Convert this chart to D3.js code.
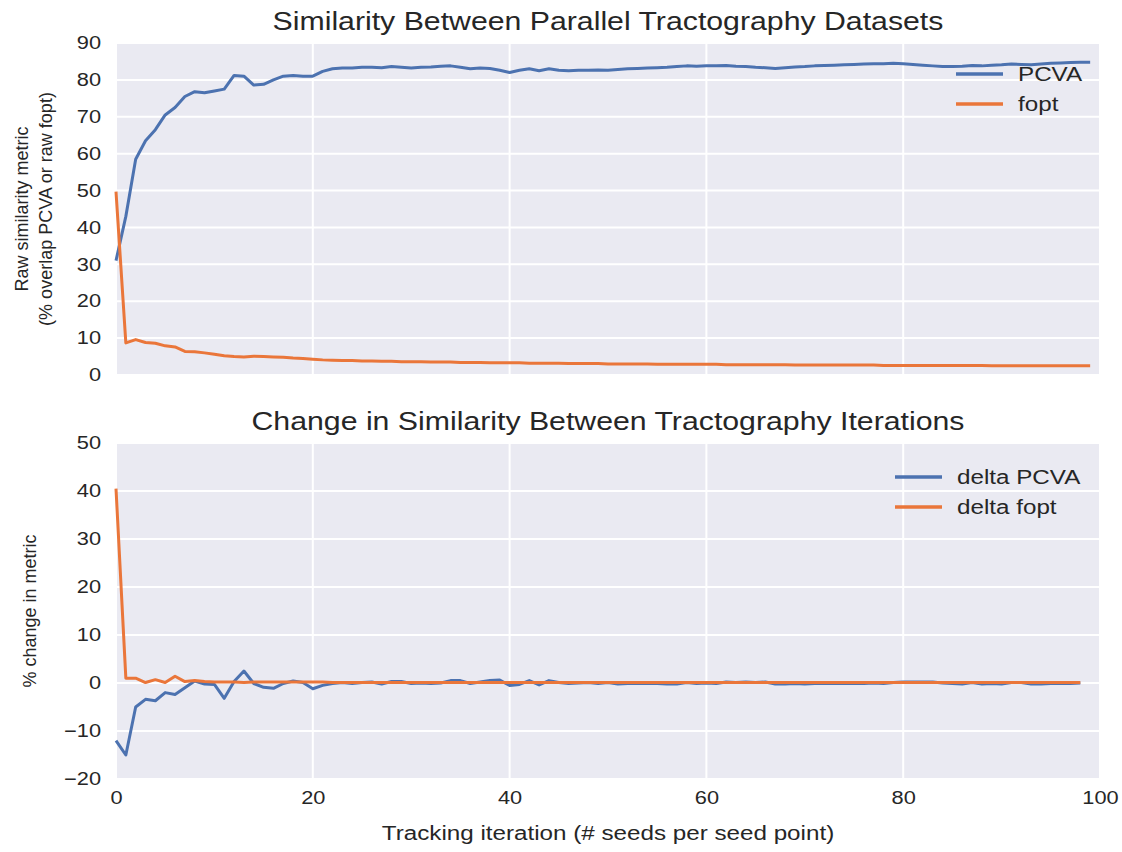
<!DOCTYPE html>
<html>
<head>
<meta charset="utf-8">
<script src="https://cdn.jsdelivr.net/npm/d3@7"></script>
<style>
  body { margin: 0; background: #fff; }
  svg text { font-family: "Liberation Sans", Arial, sans-serif; fill: #262626; }
</style>
</head>
<body>
<div id="chart"></div>
<script>
// Raw similarity per tracking iteration (x = 0..99)
var pcva = [31, 43, 58.5, 63.5, 66.5, 70.5, 72.5, 75.5, 76.8, 76.5,
  77, 77.5, 81.2, 81, 78.6, 78.8, 80, 81, 81.2, 81,
  81, 82.3, 83, 83.2, 83.2, 83.4, 83.4, 83.3, 83.6, 83.4,
  83.2, 83.4, 83.5, 83.7, 83.8, 83.4, 83, 83.2, 83.1, 82.6,
  82, 82.6, 83, 82.5, 83, 82.6, 82.5, 82.6, 82.6, 82.7,
  82.6, 82.8, 83, 83.1, 83.2, 83.3, 83.4, 83.6, 83.8, 83.7,
  83.8, 83.8, 83.9, 83.7, 83.6, 83.4, 83.3, 83.1, 83.3, 83.5,
  83.6, 83.8, 83.9, 84, 84.1, 84.2, 84.3, 84.4, 84.4, 84.5,
  84.4, 84.2, 84, 83.8, 83.6, 83.6, 83.7, 83.9, 83.8, 84,
  84.1, 84.3, 84.2, 84.1, 84.3, 84.5, 84.6, 84.7, 84.8, 84.8];

var fopt = [49.7, 8.7, 9.6, 8.8, 8.6, 7.9, 7.6, 6.4, 6.3, 6.0,
  5.6, 5.2, 5.0, 4.9, 5.1, 5.0, 4.9, 4.8, 4.6, 4.5,
  4.3, 4.1, 4.0, 3.9, 3.9, 3.8, 3.8, 3.7, 3.7, 3.6,
  3.6, 3.6, 3.5, 3.5, 3.5, 3.4, 3.4, 3.4, 3.3, 3.3,
  3.3, 3.3, 3.2, 3.2, 3.2, 3.2, 3.1, 3.1, 3.1, 3.1,
  3.0, 3.0, 3.0, 3.0, 3.0, 2.9, 2.9, 2.9, 2.9, 2.9,
  2.9, 2.9, 2.8, 2.8, 2.8, 2.8, 2.8, 2.8, 2.8, 2.7,
  2.7, 2.7, 2.7, 2.7, 2.7, 2.7, 2.7, 2.7, 2.6, 2.6,
  2.6, 2.6, 2.6, 2.6, 2.6, 2.6, 2.6, 2.6, 2.6, 2.5,
  2.5, 2.5, 2.5, 2.5, 2.5, 2.5, 2.5, 2.5, 2.5, 2.5];

// Change between consecutive iterations (x = 0..98)
var deltaPcva = [-12.0, -15.0, -5.0, -3.4, -3.7, -2.0, -2.4, -1.0, 0.4, -0.2,
  -0.3, -3.2, 0.3, 2.5, -0.1, -0.9, -1.1, -0.1, 0.4, 0.1,
  -1.2, -0.5, -0.1, 0.1, -0.1, 0.1, 0.2, -0.2, 0.3, 0.3,
  -0.1, 0.0, -0.1, 0.0, 0.5, 0.5, -0.1, 0.2, 0.5, 0.6,
  -0.5, -0.3, 0.5, -0.4, 0.5, 0.1, -0.1, 0.0, 0.1, -0.1,
  0.1, -0.2, -0.1, -0.1, -0.1, -0.1, -0.2, -0.2, 0.1, -0.1,
  0.0, -0.1, 0.2, 0.1, 0.2, 0.1, 0.2, -0.2, -0.2, -0.1,
  -0.2, -0.1, -0.1, -0.1, -0.1, -0.1, -0.1, 0.0, -0.1, 0.1,
  0.2, 0.2, 0.2, 0.2, 0.0, -0.1, -0.2, 0.1, -0.2, -0.1,
  -0.2, 0.1, 0.1, -0.2, -0.2, -0.1, -0.1, -0.1, 0.0];

var deltaFopt = [40.5, 1.0, 1.0, 0.1, 0.7, 0.1, 1.4, 0.3, 0.5, 0.3,
  0.2, 0.2, 0.2, 0.1, 0.2, 0.2, 0.2, 0.2, 0.2, 0.2,
  0.2, 0.2, 0.1, 0.1, 0.1, 0.1, 0.1, 0.1, 0.1, 0.1,
  0.1, 0.1, 0.1, 0.1, 0.1, 0.1, 0.1, 0.1, 0.1, 0.1,
  0.1, 0.1, 0.1, 0.1, 0.1, 0.1, 0.1, 0.1, 0.1, 0.1,
  0.1, 0.1, 0.1, 0.1, 0.1, 0.1, 0.1, 0.1, 0.1, 0.1,
  0.1, 0.1, 0.1, 0.1, 0.1, 0.1, 0.1, 0.1, 0.1, 0.1,
  0.1, 0.1, 0.1, 0.1, 0.1, 0.1, 0.1, 0.1, 0.1, 0.1,
  0.1, 0.1, 0.1, 0.1, 0.1, 0.1, 0.1, 0.1, 0.1, 0.1,
  0.1, 0.1, 0.1, 0.1, 0.1, 0.1, 0.1, 0.1, 0.1];

var xTicks = [0, 20, 40, 60, 80, 100];
var topTicks = [0, 10, 20, 30, 40, 50, 60, 70, 80, 90];
var bottomTicks = [-20, -10, 0, 10, 20, 30, 40, 50];

var blue = "#4c72b0",
    orange = "#ea763a";

// horizontal text runs a bit wide, widen glyphs by this factor
var widen = 1.21;

var svg = d3.select("#chart")
  .append("svg")
  .attr("width", 1122)
  .attr("height", 852);

function stretch(sel) {
  sel.each(function () {
    var len = this.getComputedTextLength();
    d3.select(this)
      .attr("textLength", len * widen)
      .attr("lengthAdjust", "spacingAndGlyphs");
  });
}

var xScale = d3.scaleLinear().domain([0, 100]).range([116, 1100]);

// Draw one panel: background, grid, axes, lines, legend.
function panel(opts) {
  var y = d3.scaleLinear().domain(opts.domain).range(opts.range);
  var g = svg.append("g");

  g.append("rect")
    .attr("x", xScale(0))
    .attr("y", y(opts.domain[1]))
    .attr("width", xScale(100) - xScale(0))
    .attr("height", y(opts.domain[0]) - y(opts.domain[1]))
    .attr("fill", "#eaeaf2");

  g.selectAll("line.hgrid")
    .data(opts.ticks)
    .join("line")
      .attr("class", "hgrid")
      .attr("x1", xScale(0)).attr("x2", xScale(100))
      .attr("y1", d => y(d)).attr("y2", d => y(d))
      .attr("stroke", "#fff").attr("stroke-width", 2);

  g.selectAll("line.vgrid")
    .data(xTicks)
    .join("line")
      .attr("class", "vgrid")
      .attr("x1", d => xScale(d)).attr("x2", d => xScale(d))
      .attr("y1", y(opts.domain[0])).attr("y2", y(opts.domain[1]))
      .attr("stroke", "#fff").attr("stroke-width", 2);

  var yAxis = d3.axisLeft(y).tickValues(opts.ticks).tickSize(0).tickPadding(15)
    .tickFormat(d => d < 0 ? "\u2212" + Math.abs(d) : d);
  g.append("g")
    .attr("transform", `translate(${xScale(0)},0)`)
    .call(yAxis)
    .call(a => a.select(".domain").remove())
    .selectAll("text")
      .style("font-size", "18px")
      .attr("fill", "#262626")
      .call(stretch);

  if (opts.showX) {
    g.append("g")
      .attr("transform", `translate(0,${y(opts.domain[0])})`)
      .call(d3.axisBottom(xScale).tickValues(xTicks).tickSize(0).tickPadding(12))
      .call(a => a.select(".domain").remove())
      .selectAll("text")
        .style("font-size", "18px")
        .attr("fill", "#262626")
        .call(stretch);
  }

  var line = d3.line().x((d, i) => xScale(i)).y(d => y(d));
  opts.series.forEach(function (s) {
    g.append("path")
      .datum(s.values)
      .attr("d", line)
      .attr("fill", "none")
      .attr("stroke", s.color)
      .attr("stroke-width", 3)
      .attr("stroke-linejoin", "round");
  });

  // legend, no frame
  var leg = g.append("g");
  opts.series.forEach(function (s, i) {
    var ly = opts.legendY + i * 30;
    leg.append("line")
      .attr("x1", opts.legendX).attr("x2", opts.legendX + 47)
      .attr("y1", ly).attr("y2", ly)
      .attr("stroke", s.color).attr("stroke-width", 3.5);
    leg.append("text")
      .attr("x", opts.legendX + 62)
      .attr("y", ly)
      .attr("dy", "0.35em")
      .style("font-size", "20px")
      .text(s.name)
      .call(stretch);
  });

  g.append("text")
    .attr("x", (xScale(0) + xScale(100)) / 2)
    .attr("y", y(opts.domain[1]) - 13)
    .attr("text-anchor", "middle")
    .style("font-size", "25px")
    .text(opts.title)
    .call(stretch);

  var mid = (y(opts.domain[0]) + y(opts.domain[1])) / 2;
  opts.ylabel.forEach(function (t, i) {
    g.append("text")
      .attr("transform", `translate(${opts.ylabelX + i * 24},${mid}) rotate(-90)`)
      .attr("text-anchor", "middle")
      .style("font-size", "18px")
      .text(t);
  });
}

panel({
  domain: [0, 90], range: [375, 43], ticks: topTicks, showX: false,
  title: "Similarity Between Parallel Tractography Datasets",
  ylabel: ["Raw similarity metric", "(% overlap PCVA or raw fopt)"], ylabelX: 28,
  series: [{name: "PCVA", values: pcva, color: blue}, {name: "fopt", values: fopt, color: orange}],
  legendX: 956, legendY: 74
});

panel({
  domain: [-20, 50], range: [779, 443], ticks: bottomTicks, showX: true,
  title: "Change in Similarity Between Tractography Iterations",
  ylabel: ["% change in metric"], ylabelX: 36,
  series: [{name: "delta PCVA", values: deltaPcva, color: blue}, {name: "delta fopt", values: deltaFopt, color: orange}],
  legendX: 895, legendY: 477
});

svg.append("text")
  .attr("x", (xScale(0) + xScale(100)) / 2)
  .attr("y", 840)
  .attr("text-anchor", "middle")
  .style("font-size", "20px")
  .text("Tracking iteration (# seeds per seed point)")
  .call(stretch);
</script>
</body>
</html>
